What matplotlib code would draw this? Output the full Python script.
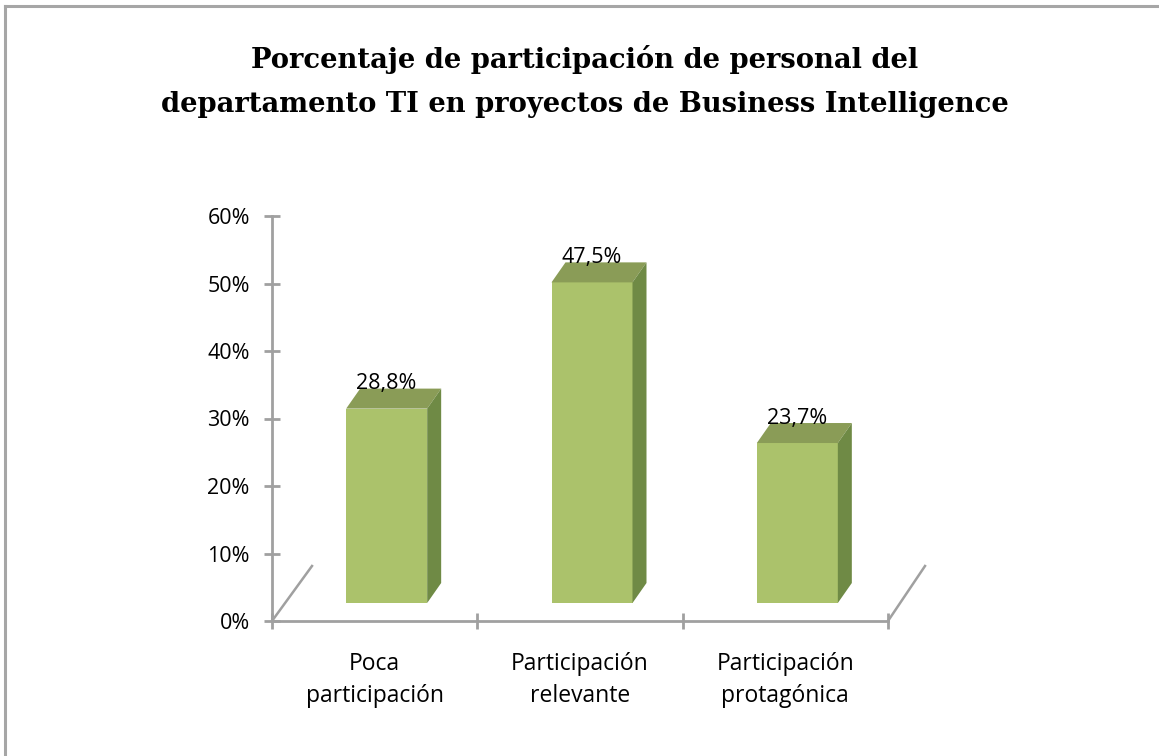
import matplotlib
matplotlib.use("Agg")
import matplotlib.pyplot as plt
from matplotlib.lines import Line2D
from matplotlib.patches import Polygon

categories = ["Poca\nparticipación", "Participación\nrelevante", "Participación\nprotagónica"]
values = [28.8, 47.5, 23.7]
value_labels = ["28,8%", "47,5%", "23,7%"]
yticks = [0, 10, 20, 30, 40, 50, 60]
ytick_labels = ["0%", "10%", "20%", "30%", "40%", "50%", "60%"]
title_lines = ["Porcentaje de participación de personal del",
               "departamento TI en proyectos de Business Intelligence"]

FRONT = "#ABC26B"
TOP = "#8A9C57"
SIDE = "#6F8A45"
AXIS = "#A0A0A0"
FONT = "Open Sans"

W, H = 1159, 756
fig = plt.figure(figsize=(W / 100, H / 100), dpi=100)
fig.patch.set_facecolor("white")

# outer chart border (left and top visible)
fig.add_artist(Line2D([5 / W, 5 / W], [0, 1 - 6 / H], color="#A6A6A6", lw=2.2, transform=fig.transFigure))
fig.add_artist(Line2D([5 / W, 1], [1 - 6 / H, 1 - 6 / H], color="#A6A6A6", lw=2.2, transform=fig.transFigure))

ax_l, ax_r = 272, 888
ax_b, ax_t = 621, 216
ax = fig.add_axes([ax_l / W, 1 - ax_b / H, (ax_r - ax_l) / W, (ax_b - ax_t) / H])
ax.set_xlim(-0.5, 2.5)
ax.set_ylim(0, 60)

px_x = 3.0 / (ax_r - ax_l)      # data units per pixel (x)
px_y = 60.0 / (ax_b - ax_t)     # data units per pixel (y)

shift_x, shift_y = 12 * px_x, 18 * px_y
depth_x, depth_y = 14 * px_x, 20 * px_y
bw = 81 * px_x

xs = list(range(len(values)))
for x, v, lab in zip(xs, values, value_labels):
    cx = x + shift_x
    x0, x1 = cx - bw / 2, cx + bw / 2
    b = shift_y
    ax.bar(cx, v, width=bw, bottom=b, color=FRONT, edgecolor="none", zorder=3)
    ax.add_patch(Polygon([(x0, v + b), (x1, v + b), (x1 + depth_x, v + b + depth_y), (x0 + depth_x, v + b + depth_y)],
                         closed=True, facecolor=TOP, edgecolor="none", zorder=3))
    ax.add_patch(Polygon([(x1, b), (x1 + depth_x, b + depth_y), (x1 + depth_x, v + b + depth_y), (x1, v + b)],
                         closed=True, facecolor=SIDE, edgecolor="none", zorder=3))
    ax.annotate(lab, (cx, v + b), xytext=(0, 18), textcoords="offset points",
                ha="center", va="center", fontsize=15.5, family=FONT, color="black", zorder=5)

# floor diagonals
ax.add_line(Line2D([-0.5, -0.5 + 40 * px_x], [0, 55 * px_y], color=AXIS, lw=1.8, clip_on=False))
ax.add_line(Line2D([2.5, 2.5 + 37 * px_x], [0, 55 * px_y], color=AXIS, lw=1.8, clip_on=False))

for s in ["top", "right"]:
    ax.spines[s].set_visible(False)
for s in ["left", "bottom"]:
    ax.spines[s].set_color(AXIS)
    ax.spines[s].set_linewidth(2.0)
ax.patch.set_visible(False)

ax.set_yticks(yticks, ytick_labels)
ax.tick_params(axis="y", direction="inout", length=12, width=2.0, color=AXIS, pad=10,
               labelsize=15.5, labelcolor="black")
ax.set_xticks(xs, categories)
ax.set_xticks([-0.5, 0.5, 1.5, 2.5], minor=True)
ax.tick_params(axis="x", which="major", length=0, pad=22, labelsize=16.5, labelcolor="black")
ax.tick_params(axis="x", which="minor", direction="inout", length=12, width=2.0, color=AXIS)
for t in ax.get_yticklabels() + ax.get_xticklabels():
    t.set_family(FONT)
for t in ax.get_xticklabels():
    t.set_linespacing(1.45)

for line, base in zip(title_lines, [68, 112]):
    fig.text(584.5 / W, 1 - base / H, line, ha="center", va="baseline", fontsize=19.7,
             fontweight="bold", family="DejaVu Serif")

fig.savefig("out.png", dpi=100)
